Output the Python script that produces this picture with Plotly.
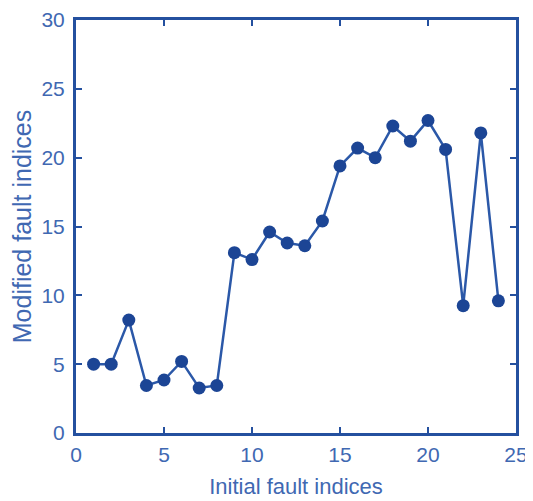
import plotly.graph_objects as go

fault_index = list(range(1, 25))
modified_index = [5.0, 5.0, 8.2, 3.45, 3.85, 5.2, 3.27, 3.45, 13.1, 12.6, 14.6, 13.8,
                  13.6, 15.4, 19.4, 20.7, 20.0, 22.3, 21.2, 22.7, 20.6, 9.25, 21.8, 9.6]
x_ticks = [0, 5, 10, 15, 20, 25]
y_ticks = [0, 5, 10, 15, 20, 25, 30]

line_col = "#24509f"
text_col = "#4068b2"
font_fam = "Liberation Sans, Arial, sans-serif"

fig = go.Figure()
fig.add_trace(go.Scatter(
    x=fault_index, y=modified_index, mode="lines+markers",
    line=dict(color="#2b58a8", width=2.5),
    marker=dict(color="#1c4595", size=13),
    showlegend=False,
))

axis_common = dict(
    showline=True, linecolor=line_col, linewidth=3, mirror="ticks",
    ticks="inside", ticklen=6, tickwidth=2, tickcolor=line_col,
    showgrid=False, zeroline=False, automargin=False,
    tickfont=dict(family=font_fam, size=21, color=text_col),
)

fig.update_xaxes(range=[0, 25], tickvals=x_ticks, ticklabelstandoff=1,
                 title=dict(text="Initial fault indices", standoff=14,
                            font=dict(family=font_fam, size=22, color=text_col)),
                 **axis_common)
fig.update_yaxes(range=[0, 30], tickvals=y_ticks, ticklabelstandoff=4,
                 title=dict(text="Modified fault indices", standoff=6,
                            font=dict(family=font_fam, size=25, color=text_col)),
                 **axis_common)

# page body has an 8px default margin; size the figure to fill the rest of the window
fig.update_layout(
    width=525, height=493,
    margin=dict(l=68, r=17, t=12, b=68),
    paper_bgcolor="white", plot_bgcolor="white",
)

fig.write_html("out.html")
